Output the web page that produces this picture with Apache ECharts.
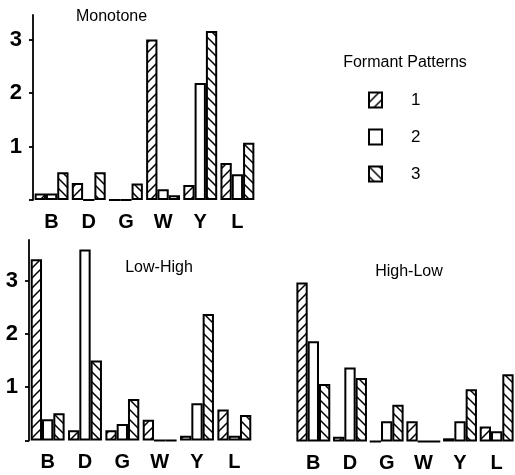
<!DOCTYPE html>
<html><head><meta charset="utf-8">
<script src="https://cdn.jsdelivr.net/npm/echarts@6/dist/echarts.min.js"></script>
<style>html,body{margin:0;padding:0;background:#fff}#c{width:515px;height:475px}</style>
</head><body><div id="c"></div><script>
const categories = ['B','D','G','W','Y','L'];
const patternNames = ['1','2','3'];
const panelTitles = ['Monotone','Low-High','High-Low'];
const legendTitle = 'Formant Patterns';
const monotone1 = [0.12,0.32,0,3.0,0.28,0.69];
const monotone2 = [0.12,0,0,0.2,2.19,0.48];
const monotone3 = [0.52,0.52,0.31,0.09,3.16,1.07];
const lowHigh1 = [3.4,0.19,0.19,0.39,0.09,0.58];
const lowHigh2 = [0.4,3.58,0.31,0,0.7,0.09];
const lowHigh3 = [0.51,1.5,0.78,0,2.37,0.48];
const highLow1 = [2.98,0.09,0,0.38,0.06,0.28];
const highLow2 = [1.88,1.39,0.38,0,0.38,0.19];
const highLow3 = [1.08,1.19,0.69,0,0.98,1.26];
const yTicks = [0,1,2,3];
const yLabels = [1,2,3];

const FONT = "'Liberation Sans', Arial, sans-serif";
function hatch(dir){
  const s=10, c=document.createElement('canvas'); c.width=s; c.height=s;
  const g=c.getContext('2d'); g.fillStyle='#fff'; g.fillRect(0,0,s,s);
  g.strokeStyle='#000'; g.lineWidth=1.5; g.beginPath();
  if(dir>0){
    g.moveTo(-2,s+2); g.lineTo(s+2,-2);
    g.moveTo(-2,2); g.lineTo(2,-2);
    g.moveTo(s-2,s+2); g.lineTo(s+2,s-2);
  } else {
    g.moveTo(-2,-2); g.lineTo(s+2,s+2);
    g.moveTo(s-2,-2); g.lineTo(s+2,2);
    g.moveTo(-2,s-2); g.lineTo(2,s+2);
  }
  g.stroke(); return c;
}
const fills = [{image:hatch(1),repeat:'repeat'}, '#fff', {image:hatch(-1),repeat:'repeat'}];
const panels = [[monotone1,monotone2,monotone3],[lowHigh1,lowHigh2,lowHigh3],[highLow1,highLow2,highLow3]];

const grids = [
  {left:33, top:15, width:223, height:185},
  {left:29, top:240, width:224, height:200.5},
  {left:295, top:241, width:220, height:200.5}
];
const maxes = [3.46, 3.76, 3.76];

const xAxes = grids.map((g,i)=>({type:'category', gridIndex:i, data:categories,
  axisLine:{show:false}, axisTick:{show:false},
  axisLabel:{margin:12, fontSize:20, fontWeight:'bold', color:'#000', fontFamily:FONT}}));
const yAxes = grids.map((g,i)=>({type:'value', gridIndex:i, min:0, max:maxes[i], interval:1,
  show: i<2,
  axisLine:{show:true, lineStyle:{color:'#000', width:1.8}},
  axisTick:{show:true, length:4, customValues:yTicks, lineStyle:{color:'#000', width:1.8}},
  axisLabel:{customValues:yLabels, margin:11, fontSize:22, fontWeight:'bold', color:'#000', fontFamily:FONT},
  splitLine:{show:false}}));

const series = [];
panels.forEach((p,i)=>{
  p.forEach((d,j)=>{
    series.push({type:'bar', name:patternNames[j], data:d, xAxisIndex:i, yAxisIndex:i,
      barWidth:11.3, barGap:'0%', silent:true,
      itemStyle:{color:fills[j], borderColor:'#000', borderWidth:2}});
  });
});

const textStyle = {fill:'#000', fontSize:16, fontFamily:FONT, align:'center', verticalAlign:'middle'};
const titlePos = [[111.5,17],[159,268],[409,272]];
const graphic = panelTitles.map((t,i)=>({type:'text', x:titlePos[i][0], y:titlePos[i][1], style:Object.assign({text:t}, textStyle)}));
graphic.push({type:'text', x:405, y:63, style:Object.assign({text:legendTitle}, textStyle)});

const chart = echarts.init(document.getElementById('c'), null, {renderer:'canvas'});
chart.setOption({
  animation:false,
  backgroundColor:'#fff',
  grid:grids, xAxis:xAxes, yAxis:yAxes, series,
  legend:{data:patternNames, orient:'vertical', left:368, top:91.5, padding:0, itemWidth:13, itemHeight:15, itemGap:20,
    icon:'rect', selectedMode:false,
    textStyle:{fontSize:17, color:'#000', fontFamily:FONT, padding:[0,0,0,24]}},
  graphic
});
</script></body></html>
